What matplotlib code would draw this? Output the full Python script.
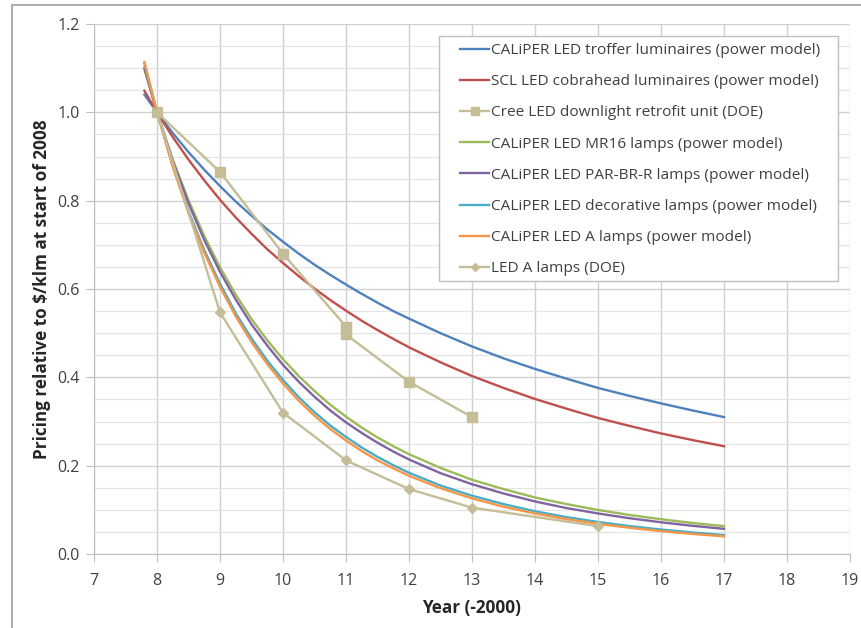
import matplotlib.pyplot as plt
from matplotlib.patches import Rectangle
from matplotlib.ticker import MultipleLocator

plt.rcParams['font.family'] = ['Open Sans', 'DejaVu Sans']

# x positions (year - 2000) for the power model curves
model_years = [7.8, 8, 8.25, 8.5, 8.75, 9, 9.25, 9.5, 9.75, 10, 10.25, 10.5, 10.75, 11, 11.25,
               11.5, 11.75, 12, 12.5, 13, 13.5, 14, 14.5, 15, 15.5, 16, 16.5, 17]

troffer = [1.040, 1.0, 0.953, 0.910, 0.870, 0.833, 0.798, 0.766, 0.735, 0.707, 0.680, 0.655,
           0.632, 0.610, 0.589, 0.569, 0.550, 0.533, 0.500, 0.470, 0.443, 0.419, 0.397, 0.376,
           0.358, 0.341, 0.325, 0.310]
cobrahead = [1.049, 1.0, 0.944, 0.893, 0.846, 0.802, 0.762, 0.725, 0.690, 0.659, 0.629, 0.601,
             0.575, 0.551, 0.528, 0.507, 0.487, 0.468, 0.434, 0.403, 0.376, 0.351, 0.329, 0.308,
             0.290, 0.273, 0.258, 0.244]
mr16 = [1.097, 1.0, 0.893, 0.801, 0.720, 0.649, 0.587, 0.532, 0.484, 0.441, 0.403, 0.369,
        0.338, 0.311, 0.286, 0.264, 0.244, 0.226, 0.195, 0.168, 0.147, 0.128, 0.113, 0.0997,
        0.0884, 0.0787, 0.0703, 0.0630]
par_br_r = [1.101, 1.0, 0.890, 0.794, 0.711, 0.639, 0.576, 0.520, 0.472, 0.428, 0.390, 0.356,
            0.325, 0.298, 0.274, 0.252, 0.232, 0.214, 0.183, 0.158, 0.137, 0.119, 0.104, 0.0918,
            0.0810, 0.0718, 0.0639, 0.0570]
decorative = [1.111, 1.0, 0.879, 0.776, 0.688, 0.612, 0.545, 0.488, 0.438, 0.394, 0.355, 0.321,
              0.291, 0.265, 0.241, 0.220, 0.201, 0.184, 0.155, 0.132, 0.113, 0.0967, 0.0835,
              0.0725, 0.0632, 0.0554, 0.0487, 0.0430]
a_lamps = [1.114, 1.0, 0.877, 0.772, 0.682, 0.605, 0.538, 0.480, 0.430, 0.386, 0.347, 0.313,
           0.283, 0.257, 0.233, 0.212, 0.194, 0.177, 0.149, 0.126, 0.107, 0.0917, 0.0789,
           0.0683, 0.0594, 0.0518, 0.0454, 0.0400]

# DOE data points
cree_years = [8, 9, 10, 11, 11, 12, 13]
cree_vals = [1.0, 0.865, 0.68, 0.515, 0.497, 0.39, 0.31]
doe_a_years = [8, 9, 10, 11, 12, 13, 15]
doe_a_vals = [1.0, 0.547, 0.32, 0.212, 0.147, 0.105, 0.063]

tan = '#c4bd97'

fig = plt.figure(figsize=(8.62, 6.28), dpi=100)
fig.patches.append(Rectangle((12 / 862, -0.1), 1.0, 1.1 - 5.5 / 628, transform=fig.transFigure,
                             fill=False, edgecolor='#a6a6a6', linewidth=1.3))
ax = fig.add_axes([94 / 862, 1 - 554 / 628, 756 / 862, 530 / 628])

ax.plot(model_years, troffer, color='#4f81bd', lw=1.7, label='CALiPER LED troffer luminaires (power model)')
ax.plot(model_years, cobrahead, color='#c0504d', lw=1.7, label='SCL LED cobrahead luminaires (power model)')
ax.plot(cree_years, cree_vals, color=tan, lw=1.7, marker='s', ms=6.5,
        label='Cree LED downlight retrofit unit (DOE)')
ax.plot(model_years, mr16, color='#9bbb59', lw=1.7, label='CALiPER LED MR16 lamps (power model)')
ax.plot(model_years, par_br_r, color='#8064a2', lw=1.7, label='CALiPER LED PAR-BR-R lamps (power model)')
ax.plot(model_years, decorative, color='#4bacc6', lw=1.7, label='CALiPER LED decorative lamps (power model)')
ax.plot(model_years, a_lamps, color='#f79646', lw=1.7, label='CALiPER LED A lamps (power model)')
ax.plot(doe_a_years, doe_a_vals, color=tan, lw=1.7, marker='D', ms=5,
        label='LED A lamps (DOE)')

ax.set_xlim(7, 19)
ax.set_ylim(0, 1.2)
ax.xaxis.set_major_locator(MultipleLocator(1))
ax.yaxis.set_major_locator(MultipleLocator(0.2))
ax.yaxis.set_minor_locator(MultipleLocator(0.05))
ax.set_yticklabels([f'{v:.1f}' for v in ax.get_yticks()])

ax.grid(True, which='major', axis='both', color='#d0d0d0', lw=1.0)
ax.grid(True, which='minor', axis='y', color='#e4e4e4', lw=0.9)
ax.set_axisbelow(True)

for side in ['top', 'right']:
    ax.spines[side].set_visible(False)
for side in ['left', 'bottom']:
    ax.spines[side].set_color('#bfbfbf')
ax.tick_params(which='major', direction='out', length=6, color='#bfbfbf', labelsize=11.5,
               labelcolor='#404040')
ax.tick_params(axis='y', pad=4)
ax.tick_params(axis='x', pad=8)
ax.tick_params(which='minor', length=0)

ax.set_xlabel('Year (-2000)', fontsize=12.3, fontweight='bold', color='#262626', labelpad=7)
ax.set_ylabel('Pricing relative to \\$/klm at start of 2008', fontsize=12.3, fontweight='bold',
              color='#262626', labelpad=5)

# legend box drawn by hand so the padding matches
ax.add_patch(Rectangle((439 / 862, 1 - 281 / 628), 399 / 862, 245 / 628, transform=fig.transFigure,
                       facecolor='white', edgecolor='#bfbfbf', lw=1.0, clip_on=False, zorder=4.8))
leg = ax.legend(loc='upper left', bbox_to_anchor=(460 / 862, 1 - 43 / 628),
                bbox_transform=fig.transFigure, borderaxespad=0, frameon=False,
                fontsize=11.1, labelspacing=1.05, handlelength=1.9, handletextpad=0.1,
                borderpad=0, markerscale=0.8)
for t in leg.get_texts():
    t.set_color('#404040')

fig.savefig('out.png', dpi=100)
